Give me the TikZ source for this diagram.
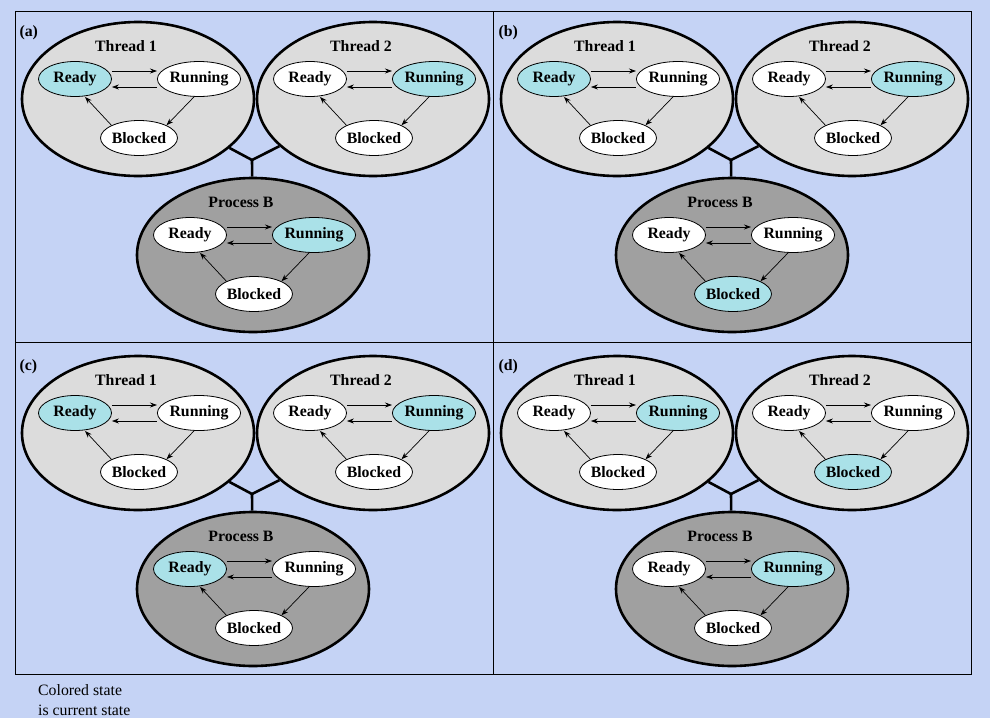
\documentclass[tikz,border=0pt]{standalone}
\usepackage{fontspec}
\setmainfont{Liberation Serif}
\usetikzlibrary{shapes.geometric, arrows.meta}

\tikzset{
    rdy/.style={}, run/.style={}, blk/.style={},
    statenode/.style={ellipse, draw, line width=0.8pt, fill=white, minimum width=73pt, minimum height=35pt, inner sep=0pt, font=\fontsize{15.8}{17}\selectfont\bfseries},
    groupnode/.style={ellipse, draw, line width=2.6pt, minimum width=232pt, minimum height=154pt},
    grouptitle/.style={font=\fontsize{15.8}{17}\selectfont\bfseries},
    paneltag/.style={anchor=west, font=\fontsize{15.8}{17}\selectfont\bfseries},
    trans/.style={-{Stealth[length=7pt,width=5pt]}, line width=0.7pt},
    branch/.style={line width=2.6pt},
}

% one thread or process with its three states
\newcommand{\stategroup}[6]{%
    \begin{scope}[#6/.style={fill=cur}]
        \node[groupnode, fill=#5] (#1) at (#2,#3) {};
        \node[grouptitle] (#1-title) at ({#2-12},{#3-53}) {#4};
        \node[statenode, rdy] (#1-rdy) at ({#2-63},{#3-20}) {Ready};
        \node[statenode, run] (#1-run) at ({#2+61},{#3-20}) {Running};
        \node[statenode, blk] (#1-blk) at ({#2+1},{#3+39}) {Blocked};
        \draw[trans] ([yshift=8pt]#1-rdy.east) -- ([yshift=8pt]#1-run.west);
        \draw[trans] ([yshift=-8pt]#1-run.west) -- ([yshift=-8pt]#1-rdy.east);
        \draw[trans] ([xshift=-5pt]#1-run.south) -- (#1-blk.north east);
        \draw[trans] (#1-blk.north west) -- ([xshift=10pt]#1-rdy.south);
    \end{scope}
}

% one panel: two threads joined to process B
\newcommand{\panel}[5]{%
    \node[paneltag] (#1-tag) at (1,22) {#2};
    \coordinate (#1-jn) at (237,149);
    \stategroup{#1-t1}{123}{88}{Thread 1}{thread}{#3}
    \stategroup{#1-t2}{358}{88}{Thread 2}{thread}{#4}
    \stategroup{#1-pb}{238}{244}{Process B}{process}{#5}
    \draw[branch] (#1-jn) -- (#1-t1);
    \draw[branch] (#1-jn) -- (#1-t2);
    \draw[branch] (#1-jn) -- (#1-pb);
}

\begin{document}
\begin{tikzpicture}[x=1pt, y=-1pt]
    % Define colors
    \definecolor{bgblue}{RGB}{197,211,245}
    \definecolor{thread}{RGB}{220,220,220}
    \definecolor{process}{RGB}{160,160,160}
    \definecolor{cur}{RGB}{170,225,232}

    % Background
    \fill[bgblue] (0,0) rectangle (990,718);
    \useasboundingbox (0,0) rectangle (990,718);

    % Frame
    \draw[line width=1pt] (15,11) rectangle (971,674);
    \draw[line width=1pt] (493,11) -- (493,674);
    \draw[line width=1pt] (15,342) -- (971,342);

    % Panel (a)
    \begin{scope}[shift={(15,11)}]
        \panel{a}{(a)}{rdy}{run}{run}
    \end{scope}

    % Panel (b)
    \begin{scope}[shift={(494,11)}]
        \panel{b}{(b)}{rdy}{run}{blk}
    \end{scope}

    % Panel (c)
    \begin{scope}[shift={(15,345)}]
        \panel{c}{(c)}{rdy}{run}{rdy}
    \end{scope}

    % Panel (d)
    \begin{scope}[shift={(494,345)}]
        \panel{d}{(d)}{run}{blk}{run}
    \end{scope}

    % Legend
    \node[anchor=north west, align=left, inner sep=0pt, font=\fontsize{15.8}{20}\selectfont] (legend) at (38,684) {Colored state\\is current state};
\end{tikzpicture}
\end{document}
